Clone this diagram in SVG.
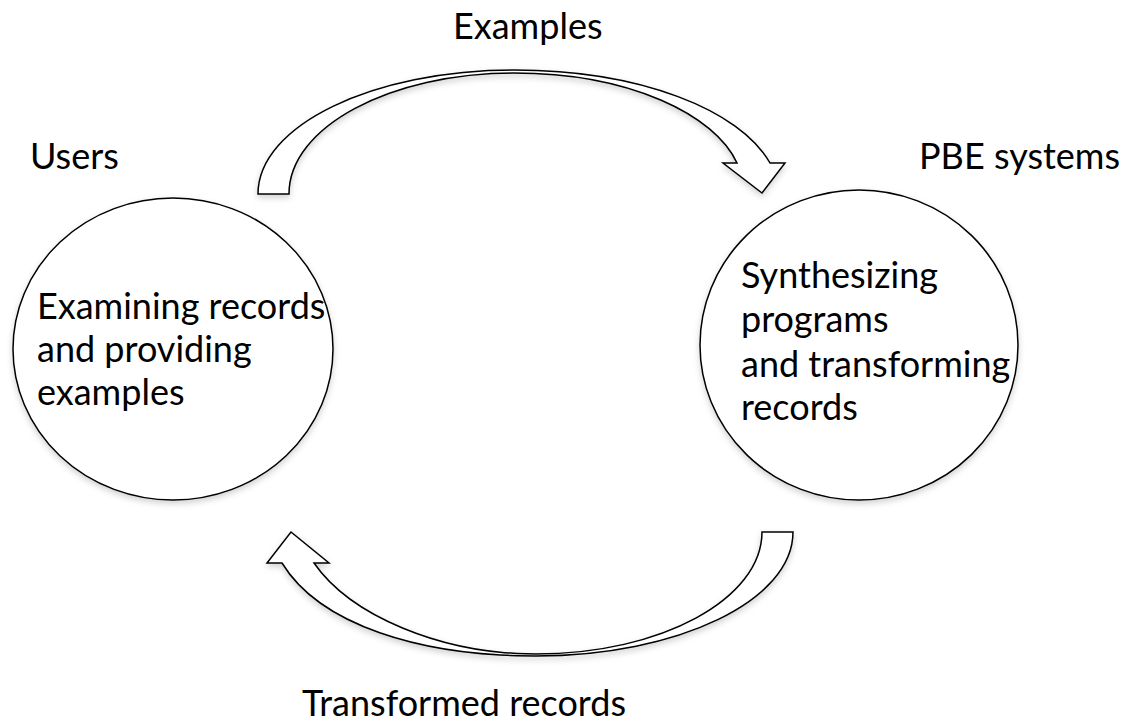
<svg xmlns="http://www.w3.org/2000/svg" width="1124" height="728" viewBox="0 0 1124 728">
<defs>
<style>
.lbl{font-family:Lato,"Liberation Sans",sans-serif;font-size:36px;fill:#000}
.shape{fill:#fff;stroke:#000;stroke-width:1.5}
</style>
<filter id="sh" x="-10%" y="-10%" width="120%" height="130%">
<feDropShadow dx="0" dy="3" stdDeviation="3" flood-color="#000" flood-opacity="0.18"/>
</filter>
</defs>
<rect width="1124" height="728" fill="#fff"/>
<g id="connectors">
<g id="arrow-examples">
<path class="shape" filter="url(#sh)" d="M258,194 C258,125.5 372.6,70 514,70 C640,70 740,110 770,163 L785,163 L762,193 L723,163 L737,163 C715,115 630,73 514,73 C390,73 289,127 289,194 Z"/>
</g>
<g id="arrow-transformed">
<path class="shape" filter="url(#sh)" d="M793,532 C793,600.5 678,656 536,656 C420,656 320,625 282,563 L267,563 L291,532 L329,563 L314,563 C350,615 440,654 536,654 C661,654 762,599 762,532 Z"/>
</g>
</g>
<g id="users">
<ellipse class="shape" filter="url(#sh)" cx="173" cy="349" rx="160" ry="151"/>
<text class="lbl" x="30" y="169">Users</text>
<text class="lbl" x="37" y="319">Examining records</text>
<text class="lbl" x="37" y="362">and providing</text>
<text class="lbl" x="37" y="405">examples</text>
</g>
<g id="pbe">
<ellipse class="shape" filter="url(#sh)" cx="859" cy="345" rx="159" ry="155"/>
<text class="lbl" x="919" y="169">PBE systems</text>
<text class="lbl" x="741" y="288">Synthesizing</text>
<text class="lbl" x="741" y="332">programs</text>
<text class="lbl" x="741" y="377">and transforming</text>
<text class="lbl" x="741" y="420">records</text>
</g>
<g id="labels">
<text class="lbl" x="453" y="39">Examples</text>
<text class="lbl" x="302" y="716">Transformed records</text>
</g>
</svg>
